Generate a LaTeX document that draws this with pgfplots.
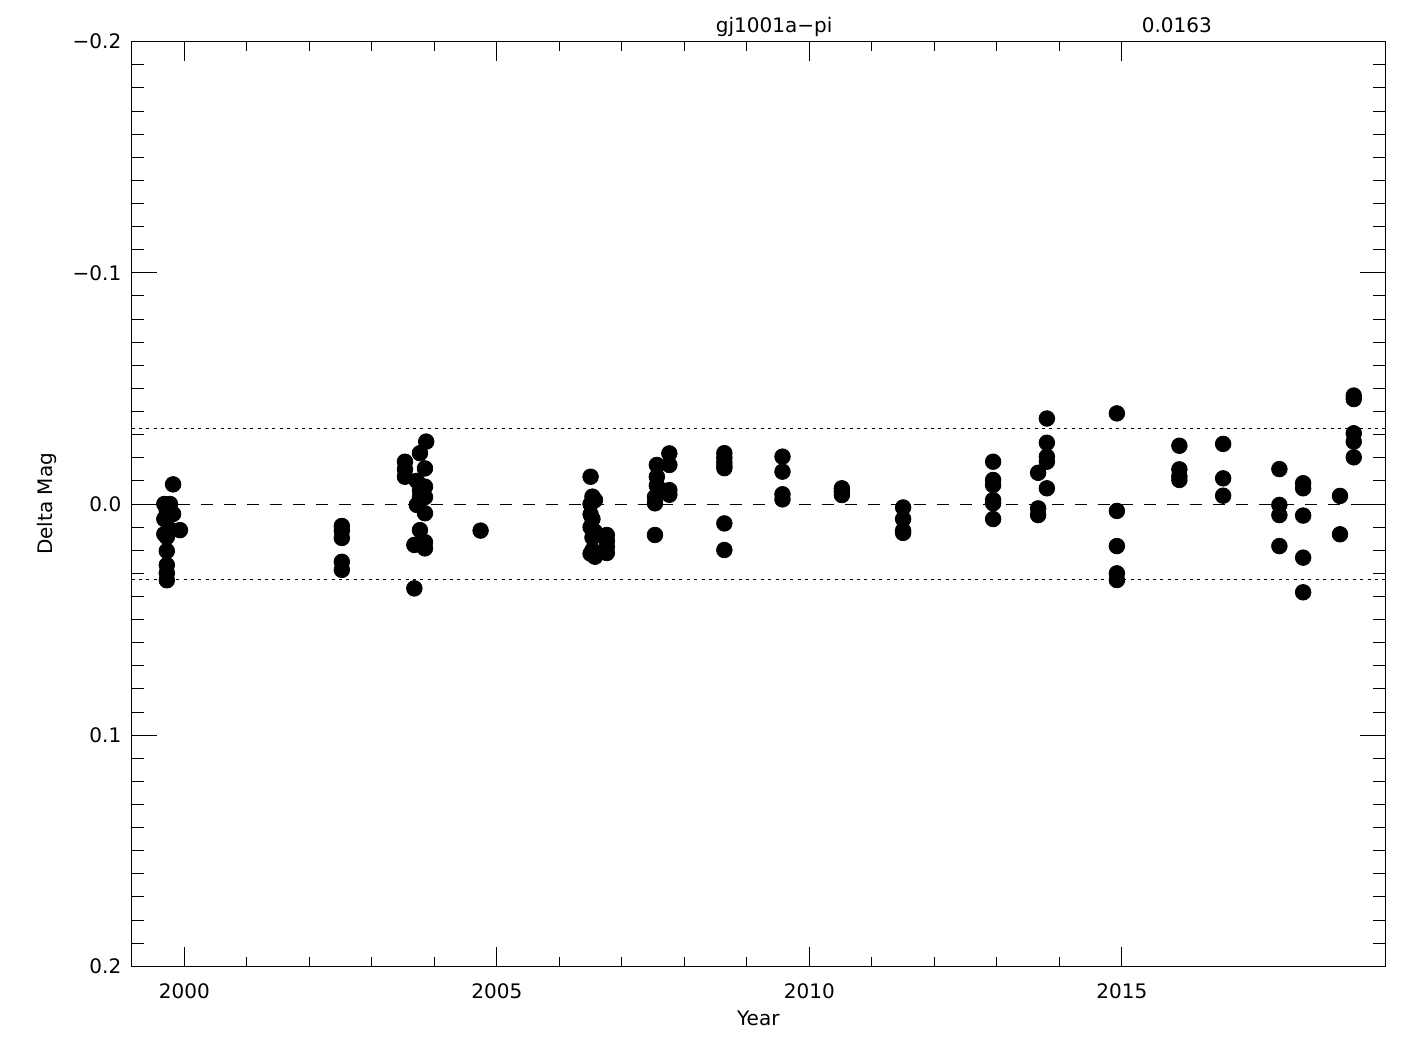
\documentclass[border=0pt]{standalone}
\usepackage{fontspec}
\setmainfont{DejaVu Sans}
\usepackage{pgfplots}
\pgfplotsset{compat=1.18}
\begin{document}
\begin{tikzpicture}
\begin{axis}[
  at={(0,0)}, anchor=south west,
  scale only axis, width=626.65pt, height=462.3pt,
  xmin=1999.158, xmax=2019.21, ymin=-0.2, ymax=0.2, y dir=reverse,
  xtick={2000,2005,2010,2015}, xticklabels={2000,2005,2010,2015},
  minor x tick num=4,
  ytick={-0.2,-0.1,0,0.1,0.2}, yticklabels={−0.2,−0.1,0.0,0.1,0.2},
  minor y tick num=9,
  tick align=inside, xtick pos=both, ytick pos=both,
  major tick length=9.5pt, minor tick length=4.5pt,
  ytick style={/pgfplots/major tick length=12.5pt,/pgfplots/minor tick length=6pt},
  axis line style={line width=0.5pt},
  tick style={line width=0.5pt, black},
  xticklabel style={font=\fontsize{10}{12}\selectfont, anchor=north, inner sep=0pt, yshift=-8.3pt},
  yticklabel style={font=\fontsize{10}{12}\selectfont, anchor=east, inner sep=0pt, xshift=-5pt},
  clip=false,
]
\addplot[black, line width=0.5pt, dash pattern=on 6pt off 5.5pt] coordinates {(1999.158,0) (2019.21,0)};
\addplot[black, line width=0.5pt, dash pattern=on 1.5pt off 2.2pt] coordinates {(1999.158,-0.0326) (2019.21,-0.0326)};
\addplot[black, line width=0.5pt, dash pattern=on 1.5pt off 2.2pt] coordinates {(1999.158,0.0326) (2019.21,0.0326)};
\addplot[only marks, mark=*, mark size=3.9pt, mark options={fill=black, draw=black, line width=0.4pt}] table {
x y
1999.68 0.000
1999.77 0.000
1999.72 0.003
1999.68 0.0065
1999.82 0.0043
1999.93 0.0113
1999.68 0.013
1999.77 0.011
1999.72 0.0143
1999.72 0.0203
1999.72 0.0264
1999.72 0.0299
1999.72 0.0330
1999.82 -0.0085
2002.52 0.0095
2002.52 0.0115
2002.52 0.0147
2002.52 0.025
2002.52 0.0285
2003.87 -0.027
2003.77 -0.022
2003.53 -0.0183
2003.53 -0.015
2003.53 -0.0118
2003.85 -0.0154
2003.77 -0.006
2003.85 -0.0075
2003.72 0.0004
2003.77 -0.003
2003.85 0.004
2003.85 -0.003
2003.72 -0.010
2003.77 0.0113
2003.68 0.0177
2003.85 0.0192
2003.85 0.0165
2003.68 0.0365
2004.74 0.0115
2006.50 -0.0118
2006.53 -0.0032
2006.57 -0.0017
2006.50 0.000
2006.50 0.0045
2006.53 0.0065
2006.50 0.010
2006.57 0.012
2006.53 0.0145
2006.50 0.0215
2006.57 0.0228
2006.53 0.020
2006.76 0.0134
2006.76 0.016
2006.76 0.0185
2006.76 0.0212
2007.76 -0.0219
2007.76 -0.0169
2007.56 -0.0169
2007.56 -0.0118
2007.56 -0.008
2007.76 -0.006
2007.76 -0.004
2007.53 -0.0003
2007.53 -0.003
2007.53 0.0134
2008.64 -0.022
2008.64 -0.020
2008.64 -0.018
2008.64 -0.0165
2008.64 -0.0155
2008.64 0.0084
2008.64 0.0199
2009.57 -0.0205
2009.57 -0.014
2009.57 -0.0042
2009.57 -0.0020
2010.52 -0.0068
2010.52 -0.0055
2010.52 -0.0039
2011.50 0.0015
2011.50 0.0065
2011.50 0.0115
2011.50 0.0125
2012.94 -0.0183
2012.94 -0.0104
2012.94 -0.0082
2012.94 -0.0017
2012.94 -0.0003
2012.94 0.0065
2013.66 -0.0135
2013.66 0.0019
2013.66 0.0048
2013.80 -0.037
2013.80 -0.0265
2013.80 -0.0205
2013.80 -0.0183
2013.80 -0.0068
2014.92 -0.0392
2014.92 0.003
2014.92 0.0182
2014.92 0.0300
2014.92 0.0329
2015.92 -0.0252
2015.92 -0.015
2015.92 -0.012
2015.92 -0.0104
2016.62 -0.026
2016.62 -0.0111
2016.62 -0.0036
2017.52 -0.0151
2017.52 0.0004
2017.52 0.0048
2017.52 0.0182
2017.90 -0.009
2017.90 -0.0068
2017.90 0.005
2017.90 0.0232
2017.90 0.0382
2018.49 -0.0035
2018.49 0.0131
2018.71 -0.0469
2018.71 -0.0454
2018.71 -0.0306
2018.71 -0.027
2018.71 -0.0202
};
\end{axis}
\node[anchor=base, inner sep=0pt, font=\fontsize{10}{12}\selectfont] at (313.3pt,-29.7pt) {Year};
\node[anchor=base, rotate=90, inner sep=0pt, font=\fontsize{10}{12}\selectfont] at (-39.5pt,231.15pt) {Delta Mag};
\node[anchor=base, inner sep=0pt, font=\fontsize{10}{12}\selectfont] at (321.2pt,467pt) {gj1001a−pi};
\node[anchor=base, inner sep=0pt, font=\fontsize{10}{12}\selectfont] at (522.6pt,467pt) {0.0163};
\pgfresetboundingbox
\path[use as bounding box] (-65.85pt,-41.85pt) rectangle (646.65pt,483.15pt);
\end{tikzpicture}
\end{document}
